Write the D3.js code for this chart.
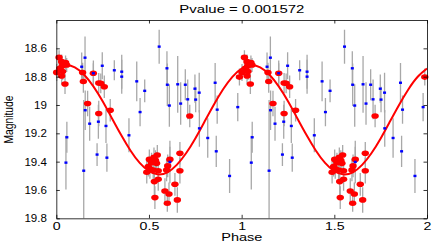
<!DOCTYPE html>
<html>
<head>
<meta charset="utf-8">
<script src="https://cdn.jsdelivr.net/npm/d3@7"></script>
<style>
  body { margin: 0; background: #fff; }
  text { font-family: "Liberation Sans", Arial, Helvetica, sans-serif; fill: #000; }
</style>
</head>
<body>
<div id="chart"></div>
<script>
// folded light curve, every point is drawn at phase p and p + 1
var bluePhase = [0.052, 0.057, 0.137, 0.148, 0.155, 0.156, 0.180, 0.200, 0.220, 0.227,
                 0.248, 0.268, 0.273, 0.313, 0.353, 0.353, 0.392, 0.434, 0.452, 0.477,
                 0.555, 0.597, 0.599, 0.610, 0.613, 0.655, 0.671, 0.696, 0.709, 0.748,
                 0.752, 0.771, 0.772, 0.817, 0.857, 0.863, 0.868, 0.935, 0.979];
var blueMag = [19.407, 19.228, 18.730, 19.464, 18.666, 19.037, 19.132, 18.776, 19.350, 19.118,
               18.723, 19.148, 19.372, 18.755, 18.765, 18.800, 19.214, 18.833, 19.050, 18.900,
               18.588, 18.741, 18.857, 19.004, 19.402, 18.854, 18.990, 18.857, 18.960, 18.885,
               18.962, 18.913, 19.165, 19.233, 18.843, 19.327, 19.033, 19.501, 19.015];
var blueErr = [0.19, 0.11, 0.10, 0.50, 0.15, 0.14, 0.12, 0.09, 0.08, 0.12,
               0.095, 0.12, 0.10, 0.07, 0.12, 0.12, 0.12, 0.14, 0.10, 0.08,
               0.12, 0.12, 0.15, 0.15, 0.15, 0.20, 0.15, 0.11, 0.14, 0.10,
               0.09, 0.14, 0.13, 0.14, 0.14, 0.11, 0.10, 0.12, 0.10];

var redPhase = [0.002, 0.015, 0.020, 0.029, 0.029, 0.032, 0.034, 0.050, 0.056, 0.047, 0.988,
                0.142, 0.146, 0.200, 0.229, 0.240, 0.259, 0.169, 0.229, 0.291, 0.720,
                0.502, 0.527, 0.545, 0.514, 0.541, 0.496, 0.488, 0.523, 0.550, 0.529,
                0.550, 0.532, 0.613, 0.601, 0.595, 0.667, 0.667, 0.640, 0.586, 0.608,
                0.599, 0.653, 0.505, 0.535];
var redMag = [18.770, 18.664, 18.741, 18.694, 18.795, 18.725, 18.764, 18.700, 18.718, 18.852, 18.803,
              18.771, 18.834, 18.776, 18.845, 18.847, 18.871, 18.990, 19.060, 19.037, 19.078,
              19.384, 19.370, 19.353, 19.407, 19.412, 19.435, 19.475, 19.459, 19.464, 19.541,
              19.525, 19.654, 19.384, 19.430, 19.459, 19.341, 19.464, 19.560, 19.607, 19.628,
              19.694, 19.670, 19.450, 19.390];
var redErr = [0.06, 0.05, 0.06, 0.05, 0.06, 0.05, 0.06, 0.05, 0.05, 0.07, 0.06,
              0.07, 0.08, 0.07, 0.07, 0.07, 0.08, 0.09, 0.09, 0.08, 0.08,
              0.07, 0.07, 0.07, 0.07, 0.08, 0.07, 0.08, 0.08, 0.08, 0.10,
              0.08, 0.08, 0.09, 0.08, 0.08, 0.08, 0.09, 0.08, 0.09, 0.08,
              0.06, 0.09, 0.07, 0.07];

// fitted curve, read at steps of 0.05 over one cycle
var curvePhase = [0, 0.05, 0.10, 0.15, 0.20, 0.25, 0.30, 0.35, 0.40, 0.45, 0.50,
                  0.55, 0.60, 0.65, 0.70, 0.75, 0.80, 0.85, 0.90, 0.95];
var curveMag = [18.743, 18.720, 18.735, 18.787, 18.869, 18.974, 19.093, 19.212, 19.321, 19.409, 19.467,
                19.490, 19.475, 19.423, 19.341, 19.236, 19.117, 18.998, 18.889, 18.801];

var xTicks = [0, 0.5, 1, 1.5, 2];
var yTicks = [18.6, 18.8, 19, 19.2, 19.4, 19.6, 19.8];
var title = "Pvalue = 0.001572";

var width = 436,
    height = 245,
    plotLeft = 56.3,
    plotRight = 427,
    plotTop = 20,
    plotBottom = 218.3;

function unfold(phase, mag, err) {
    var out = [];
    phase.forEach(function(p, i) {
        out.push({ p: p, m: mag[i], e: err ? err[i] : 0 });
        out.push({ p: p + 1, m: mag[i], e: err ? err[i] : 0 });
    });
    return out;
}

var blue = unfold(bluePhase, blueMag, blueErr);
var red = unfold(redPhase, redMag, redErr);
var curve = unfold(curvePhase, curveMag).sort(function(a, b) { return a.p - b.p; });
curve.push({ p: 2, m: curveMag[0] });

var x = d3.scaleLinear().domain([0, 2]).range([plotLeft, plotRight]);
var y = d3.scaleLinear().domain([18.4, 19.8]).range([plotTop, plotBottom]);

var svg = d3.select("#chart")
    .append("svg")
    .attr("width", width)
    .attr("height", height);

svg.append("defs")
    .append("clipPath")
    .attr("id", "plotclip")
    .append("rect")
    .attr("x", plotLeft)
    .attr("y", plotTop)
    .attr("width", plotRight - plotLeft)
    .attr("height", plotBottom - plotTop);

// error bars, under everything
svg.append("g")
    .attr("clip-path", "url(#plotclip)")
    .selectAll("line")
    .data(red.concat(blue))
    .enter()
    .append("line")
    .attr("x1", function(d) { return x(d.p); })
    .attr("x2", function(d) { return x(d.p); })
    .attr("y1", function(d) { return y(d.m - d.e); })
    .attr("y2", function(d) { return y(d.m + d.e); })
    .style("stroke", "#a8a8a8")
    .style("stroke-width", 1.3);

var line = d3.line()
    .x(function(d) { return x(d.p); })
    .y(function(d) { return y(d.m); })
    .curve(d3.curveNatural);

svg.append("path")
    .datum(curve)
    .attr("d", line)
    .attr("clip-path", "url(#plotclip)")
    .style("fill", "none")
    .style("stroke", "#ff0000")
    .style("stroke-width", 2);

svg.append("g")
    .selectAll("ellipse")
    .data(red)
    .enter()
    .append("ellipse")
    .attr("cx", function(d) { return x(d.p); })
    .attr("cy", function(d) { return y(d.m); })
    .attr("rx", 3.7)
    .attr("ry", 2.8)
    .style("fill", "#ff0000");

svg.append("g")
    .selectAll("rect")
    .data(blue)
    .enter()
    .append("rect")
    .attr("x", function(d) { return x(d.p) - 1.5; })
    .attr("y", function(d) { return y(d.m) - 1.2; })
    .attr("width", 3)
    .attr("height", 2.4)
    .style("fill", "#0000ff");

// box with inward ticks on all four sides
var tick = -3.5;
var gx = svg.append("g")
    .attr("transform", "translate(0," + plotBottom + ")")
    .call(d3.axisBottom(x).tickValues(xTicks).tickSize(tick).tickSizeOuter(0).tickPadding(4.5)
        .tickFormat(function(d) { return d; }));
gx.selectAll("text")
    .style("font-size", "10.5px")
    .attr("transform", "scale(1.35,1)");

var gy = svg.append("g")
    .attr("transform", "translate(" + plotLeft + ",0)")
    .call(d3.axisLeft(y).tickValues(yTicks).tickSize(tick).tickSizeOuter(0).tickPadding(9)
        .tickFormat(function(d) { return d; }));
gy.selectAll("text")
    .style("font-size", "11px")
    .attr("transform", "scale(1.05,1)");

svg.append("g")
    .attr("transform", "translate(0," + plotTop + ")")
    .call(d3.axisTop(x).tickValues(xTicks).tickSize(tick).tickSizeOuter(0).tickFormat(""));

svg.append("g")
    .attr("transform", "translate(" + plotRight + ",0)")
    .call(d3.axisRight(y).tickValues(yTicks).tickSize(tick).tickSizeOuter(0).tickFormat(""));

svg.selectAll(".domain, .tick line")
    .style("stroke", "#000")
    .style("stroke-width", 0.8);

svg.append("text")
    .attr("transform", "translate(241.8,12.5) scale(1.3,1)")
    .attr("text-anchor", "middle")
    .style("font-size", "11.5px")
    .text(title);

svg.append("text")
    .attr("transform", "translate(241.8,241.2) scale(1.38,1)")
    .attr("text-anchor", "middle")
    .style("font-size", "10.5px")
    .text("Phase");

svg.append("text")
    .attr("transform", "translate(13,119.5) rotate(-90) scale(1,1.25)")
    .attr("text-anchor", "middle")
    .style("font-size", "10.3px")
    .text("Magnitude");
</script>
</body>
</html>
